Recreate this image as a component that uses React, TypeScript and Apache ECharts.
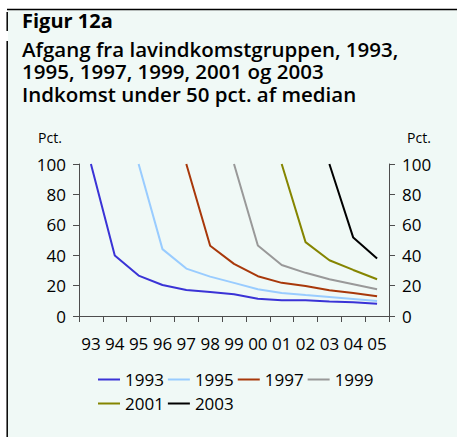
import React, { useEffect, useRef } from "react";
import * as echarts from "echarts";

const years = ["93", "94", "95", "96", "97", "98", "99", "00", "01", "02", "03", "04", "05"];
const yTicks = [0, 20, 40, 60, 80, 100];
const seriesNames = ["1993", "1995", "1997", "1999", "2001", "2003"];
const s1993 = [100, 39.8, 26.6, 20.4, 17.1, 15.8, 14.3, 11.4, 10.3, 10.3, 9.5, 9.0, 8.1];
const s1995 = [null, null, 100, 44, 31.2, 25.9, 21.8, 17.6, 15.2, 13.8, 12.5, 11.2, 9.9];
const s1997 = [null, null, null, null, 100, 46.2, 34.3, 26.2, 21.8, 19.8, 16.9, 15.2, 13];
const s1999 = [null, null, null, null, null, null, 100, 46.4, 33.6, 28.4, 24.2, 20.9, 17.6];
const s2001 = [null, null, null, null, null, null, null, null, 100, 48.6, 36.7, 30.3, 24.2];
const s2003 = [null, null, null, null, null, null, null, null, null, null, 100, 51.6, 37.8];
const seriesData = [s1993, s1995, s1997, s1999, s2001, s2003];
const colors = ["#3a33d6", "#99ccff", "#a8380a", "#999999", "#858500", "#000000"];

const figTitle = "Figur 12a";
const subtitleLines = [
  "Afgang fra lavindkomstgruppen, 1993,",
  "1995, 1997, 1999, 2001 og 2003",
  "Indkomst under 50 pct. af median",
];

const FONT = '"Open Sans", sans-serif';

export default function App() {
  const ref = useRef<HTMLDivElement>(null);
  useEffect(() => {
    if (!ref.current) return;
    const chart = echarts.init(ref.current, null, { renderer: "svg" });
    const axisColor = "#4d4d4d";
    const yAxisBase = {
      type: "value",
      min: yTicks[0],
      max: yTicks[yTicks.length - 1],
      interval: 20,
      axisLine: { show: true, lineStyle: { color: axisColor, width: 1 } },
      axisTick: { show: true, length: 6, lineStyle: { color: axisColor } },
      axisLabel: { color: "#000", fontSize: 17, fontFamily: FONT, margin: 13 },
      splitLine: { show: false },
    };
    chart.setOption({
      animation: false,
      backgroundColor: "#ffffff",
      textStyle: { fontFamily: FONT },
      graphic: [
        { type: "rect", shape: { x: 8, y: 10, width: 460, height: 440 }, style: { fill: "#f0f9f6" }, z: -10 },
        { type: "line", shape: { x1: 7, y1: 9.5, x2: 457, y2: 9.5 }, style: { stroke: "#000", lineWidth: 1.5 } },
        { type: "line", shape: { x1: 7.2, y1: 12, x2: 7.2, y2: 31 }, style: { stroke: "#000", lineWidth: 1.5 } },
        { type: "line", shape: { x1: 7.2, y1: 41, x2: 7.2, y2: 437 }, style: { stroke: "#000", lineWidth: 1.5 } },
        {
          type: "text",
          x: 22,
          y: 20,
          style: {
            text: figTitle,
            fill: "#000",
            fontFamily: FONT,
            fontWeight: "bold",
            fontSize: 20,
            verticalAlign: "middle",
            align: "left",
          },
        },
        {
          type: "text",
          x: 22,
          y: 37.3,
          style: {
            text: subtitleLines.join("\n"),
            fill: "#000",
            fontFamily: FONT,
            fontWeight: 600,
            fontSize: 20.5,
            lineHeight: 22.5,
            verticalAlign: "top",
            align: "left",
          },
        },
        { type: "text", x: 50, y: 137, style: { text: "Pct.", fill: "#000", fontFamily: FONT, fontSize: 14, align: "center", verticalAlign: "middle" } },
        { type: "text", x: 419, y: 137, style: { text: "Pct.", fill: "#000", fontFamily: FONT, fontSize: 14, align: "center", verticalAlign: "middle" } },
      ],
      grid: { left: 79, right: 68, top: 164, bottom: 121, containLabel: false },
      legend: [
        {
          data: seriesNames.slice(0, 4),
          left: 93,
          top: 366,
          icon: "rect",
          itemWidth: 22,
          itemHeight: 2,
          itemGap: 4,
          textStyle: { color: "#000", fontSize: 17, fontFamily: FONT },
        },
        {
          data: seriesNames.slice(4),
          left: 93,
          top: 390,
          icon: "rect",
          itemWidth: 22,
          itemHeight: 2,
          itemGap: 4,
          textStyle: { color: "#000", fontSize: 17, fontFamily: FONT },
        },
      ],
      xAxis: {
        type: "category",
        data: years,
        boundaryGap: true,
        axisLine: { show: true, lineStyle: { color: axisColor, width: 1 } },
        axisTick: { show: true, length: 6, alignWithLabel: false, lineStyle: { color: axisColor } },
        axisLabel: { color: "#000", fontSize: 17, fontFamily: FONT, margin: 19, interval: 0 },
      },
      yAxis: [
        { ...yAxisBase, position: "left" },
        { ...yAxisBase, position: "right" },
      ],
      series: seriesNames.map((name, i) => ({
        name,
        type: "line",
        data: seriesData[i],
        yAxisIndex: 0,
        symbol: "none",
        color: colors[i],
        lineStyle: { color: colors[i], width: 2 },
      })),
    });
    return () => chart.dispose();
  }, []);
  return <div ref={ref} style={{ position: "fixed", left: 0, top: 0, width: 457, height: 437 }} />;
}
